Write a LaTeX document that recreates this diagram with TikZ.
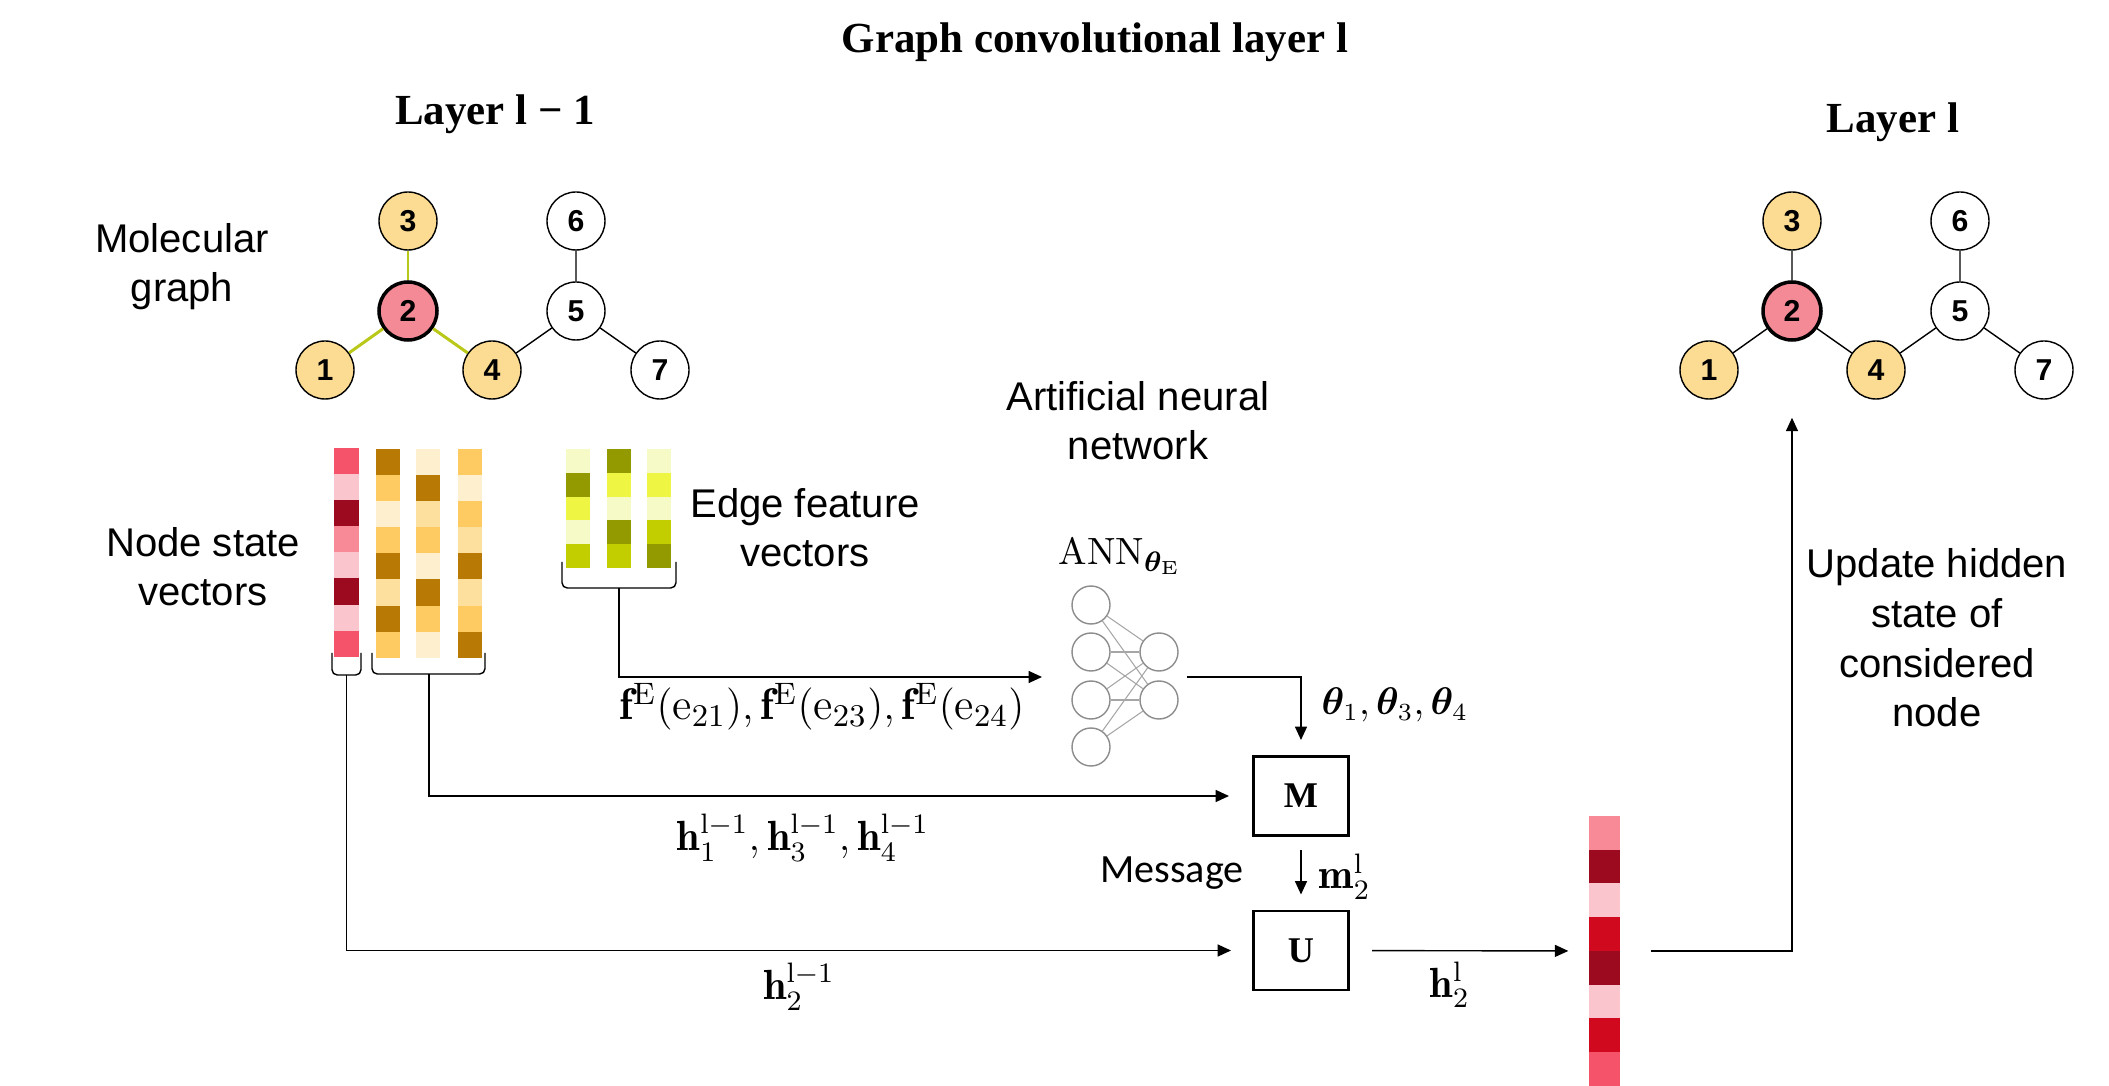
\documentclass[tikz,border=0pt]{standalone}
\usepackage{fontspec}
\usepackage{amsmath}
\usepackage{bm}
\usepackage{xcolor}
\usepackage{tikz}
\usetikzlibrary{arrows.meta,positioning}

\newfontfamily\labelfont{Liberation Sans}
\newfontfamily\msgfont{Carlito}
\newfontfamily\headfont{Liberation Serif}

\definecolor{nsA}{HTML}{F5536A}
\definecolor{nsB}{HTML}{FBC5CD}
\definecolor{nsC}{HTML}{9B0A1E}
\definecolor{nsD}{HTML}{F78A96}
\definecolor{nsE}{HTML}{D0091F}
\definecolor{orA}{HTML}{B87A05}
\definecolor{orB}{HTML}{FDCB62}
\definecolor{orC}{HTML}{FEEFCF}
\definecolor{orD}{HTML}{FDDF9E}
\definecolor{edA}{HTML}{F6FAC6}
\definecolor{edB}{HTML}{939A00}
\definecolor{edC}{HTML}{EEF542}
\definecolor{edD}{HTML}{C3CE00}
\definecolor{nbrfill}{HTML}{FCDB93}
\definecolor{ctrfill}{HTML}{F38A96}
\definecolor{bondgreen}{HTML}{B9C819}

\begin{document}
\begin{tikzpicture}[
    atom/.style={circle, draw, line width=0.4pt, minimum size=0.58cm, inner sep=0pt,
        font=\labelfont\bfseries\fontsize{8.6}{10}\selectfont},
    nbr/.style={atom, fill=nbrfill},
    ctr/.style={atom, fill=ctrfill, line width=1pt},
    neuron/.style={circle, draw=black!45, line width=0.4pt, minimum size=0.38cm, inner sep=0pt},
    syn/.style={draw=black!35, line width=0.3pt},
    fbox/.style={draw, line width=0.85pt, minimum width=0.95cm, minimum height=0.79cm,
        font=\headfont\bfseries\fontsize{10.3}{12}\selectfont},
    conn/.style={line width=0.4pt, -{Triangle[length=3.8pt,width=3.4pt]}},
    brk/.style={line width=0.4pt, rounded corners=1.5pt},
    lbl/.style={font=\labelfont\fontsize{11.4}{14.2}\selectfont, align=center, anchor=base},
    head/.style={font=\headfont\bfseries\fontsize{12.2}{14}\selectfont, anchor=base},
    mlbl/.style={font=\fontsize{12}{14}\selectfont, anchor=base, inner sep=0pt}
]
\useasboundingbox (0,0) rectangle (21.09,-10.86);

% headings
\node[head] (title) at (10.95,-0.53) {Graph convolutional layer l};
\node[head] (prevlayer) at (4.95,-1.25) {Layer l − 1};
\node[head] (nextlayer) at (18.93,-1.33) {Layer l};

% molecular graphs, layer l-1 (a) and layer l (b)
\foreach \g/\dx in {a/0, b/13.84} {
    \node[nbr] (\g1) at (3.25+\dx,-3.70) {1};
    \node[ctr] (\g2) at (4.08+\dx,-3.11) {2};
    \node[nbr] (\g3) at (4.08+\dx,-2.21) {3};
    \node[nbr] (\g4) at (4.92+\dx,-3.70) {4};
    \node[atom] (\g5) at (5.76+\dx,-3.11) {5};
    \node[atom] (\g6) at (5.76+\dx,-2.21) {6};
    \node[atom] (\g7) at (6.60+\dx,-3.70) {7};
}
\draw[bondgreen, line width=0.55pt] (a2) -- (a3);
\draw[bondgreen, line width=0.85pt] (a2) -- (a1);
\draw[bondgreen, line width=0.85pt] (a2) -- (a4);
\draw[line width=0.4pt] (a4) -- (a5) (a5) -- (a6) (a5) -- (a7);
\draw[line width=0.4pt] (b2) -- (b1) (b2) -- (b3) (b2) -- (b4)
    (b4) -- (b5) (b5) -- (b6) (b5) -- (b7);

\node[lbl] (molg) at (1.82,-3.02) {Molecular\\graph};

% node state vectors
\foreach \c [count=\i] in {nsA,nsB,nsC,nsD,nsB,nsC,nsB,nsA}
    \fill[\c] (3.34,{-4.48-(\i-1)*0.261}) rectangle ++(0.25,-0.261);
\foreach \c [count=\i] in {orA,orB,orC,orB,orA,orD,orA,orB}
    \fill[\c] (3.76,{-4.49-(\i-1)*0.261}) rectangle ++(0.24,-0.261);
\foreach \c [count=\i] in {orC,orA,orD,orB,orC,orA,orB,orC}
    \fill[\c] (4.16,{-4.49-(\i-1)*0.261}) rectangle ++(0.24,-0.261);
\foreach \c [count=\i] in {orB,orC,orB,orD,orA,orD,orB,orA}
    \fill[\c] (4.58,{-4.49-(\i-1)*0.261}) rectangle ++(0.24,-0.261);
\draw[brk] (3.32,-6.53) |- (3.465,-6.75) coordinate (nsbrace) -| (3.61,-6.53);
\draw[brk] (3.72,-6.53) |- (4.29,-6.74) coordinate (nbbrace) -| (4.85,-6.53);
\node[lbl] (nslbl) at (2.03,-6.06) {Node state\\vectors};

% edge feature vectors
\foreach \c [count=\i] in {edA,edB,edC,edA,edD}
    \fill[\c] (5.66,{-4.49-(\i-1)*0.238}) rectangle ++(0.235,-0.238);
\foreach \c [count=\i] in {edB,edC,edA,edB,edD}
    \fill[\c] (6.07,{-4.49-(\i-1)*0.238}) rectangle ++(0.235,-0.238);
\foreach \c [count=\i] in {edA,edC,edA,edD,edB}
    \fill[\c] (6.47,{-4.49-(\i-1)*0.238}) rectangle ++(0.235,-0.238);
\draw[brk] (5.62,-5.62) |- (6.19,-5.88) coordinate (edbrace) -| (6.76,-5.62);
\node[lbl] (eflbl) at (8.05,-5.67) {Edge feature\\vectors};

% neural network
\node[lbl] (annlbl) at (11.38,-4.60) {Artificial neural\\network};
\node[mlbl, anchor=base west, font=\fontsize{10.8}{13}\selectfont] (annname) at (10.58,-5.65)
    {$\mathrm{ANN}_{\bm{\theta}_{\mathrm{E}}}$};
\foreach \y [count=\i] in {6.05,6.52,7.00,7.47}
    \node[neuron] (i\i) at (10.91,-\y) {};
\node[neuron] (o1) at (11.59,-6.52) {};
\node[neuron] (o2) at (11.59,-7.00) {};
\foreach \i in {1,...,4}
    \foreach \j in {1,2}
        \draw[syn] (i\i) -- (o\j);
\coordinate (annin) at (10.42,-6.77);
\coordinate (annout) at (11.87,-6.77);

% message and update functions
\node[fbox] (M) at (13.01,-7.96) {M};
\node[fbox] (U) at (13.01,-9.505) {U};
\node[minimum width=0.31cm, minimum height=2.70cm, inner sep=0pt] (hnew) at (16.045,-9.51) {};
\foreach \c [count=\i] in {nsD,nsC,nsB,nsE,nsC,nsB,nsE,nsA}
    \fill[\c] (15.89,{-8.16-(\i-1)*0.3375}) rectangle ++(0.31,-0.3375);

\draw[conn] (edbrace) |- (annin);
\draw[conn, shorten >=0.15cm] (annout) -| (M);
\draw[conn, shorten >=0.23cm] (nbbrace) |- (M);
\draw[conn, shorten >=0.21cm] (nsbrace) |- (U);
\draw[conn, shorten <=0.13cm, shorten >=0.15cm] (M) -- (U);
\draw[conn, shorten <=0.22cm, shorten >=0.20cm] (U) -- (hnew);
\draw[conn, shorten <=0.30cm, shorten >=0.76cm] (hnew) -| (b2);

% labels on the connectors
\node[mlbl, font=\fontsize{12.6}{14}\selectfont] (felbl) at (8.22,-7.20)
    {$\mathbf{f}^{\mathrm{E}}(\mathrm{e}_{21}), \mathbf{f}^{\mathrm{E}}(\mathrm{e}_{23}), \mathbf{f}^{\mathrm{E}}(\mathrm{e}_{24})$};
\node[mlbl] (hnblbl) at (8.03,-8.51)
    {$\mathbf{h}_1^{\mathrm{l}-1}, \mathbf{h}_3^{\mathrm{l}-1}, \mathbf{h}_4^{\mathrm{l}-1}$};
\node[mlbl] (holdlbl) at (7.99,-10.00) {$\mathbf{h}_2^{\mathrm{l}-1}$};
\node[mlbl, anchor=base west, font=\fontsize{10.5}{12}\selectfont] (thetalbl) at (13.21,-7.15)
    {$\bm{\theta}_1, \bm{\theta}_3, \bm{\theta}_4$};
\node[mlbl, anchor=base west] (msglbl) at (13.18,-8.89) {$\mathbf{m}_2^{\mathrm{l}}$};
\node[mlbl, anchor=base west] (hnewlbl) at (14.29,-9.97) {$\mathbf{h}_2^{\mathrm{l}}$};
\node[font=\msgfont\fontsize{11.4}{14}\selectfont, anchor=base] (msg) at (11.72,-8.83) {Message};
\node[lbl] (updlbl) at (19.37,-7.27) {Update hidden\\state of\\considered\\node};
\end{tikzpicture}
\end{document}
